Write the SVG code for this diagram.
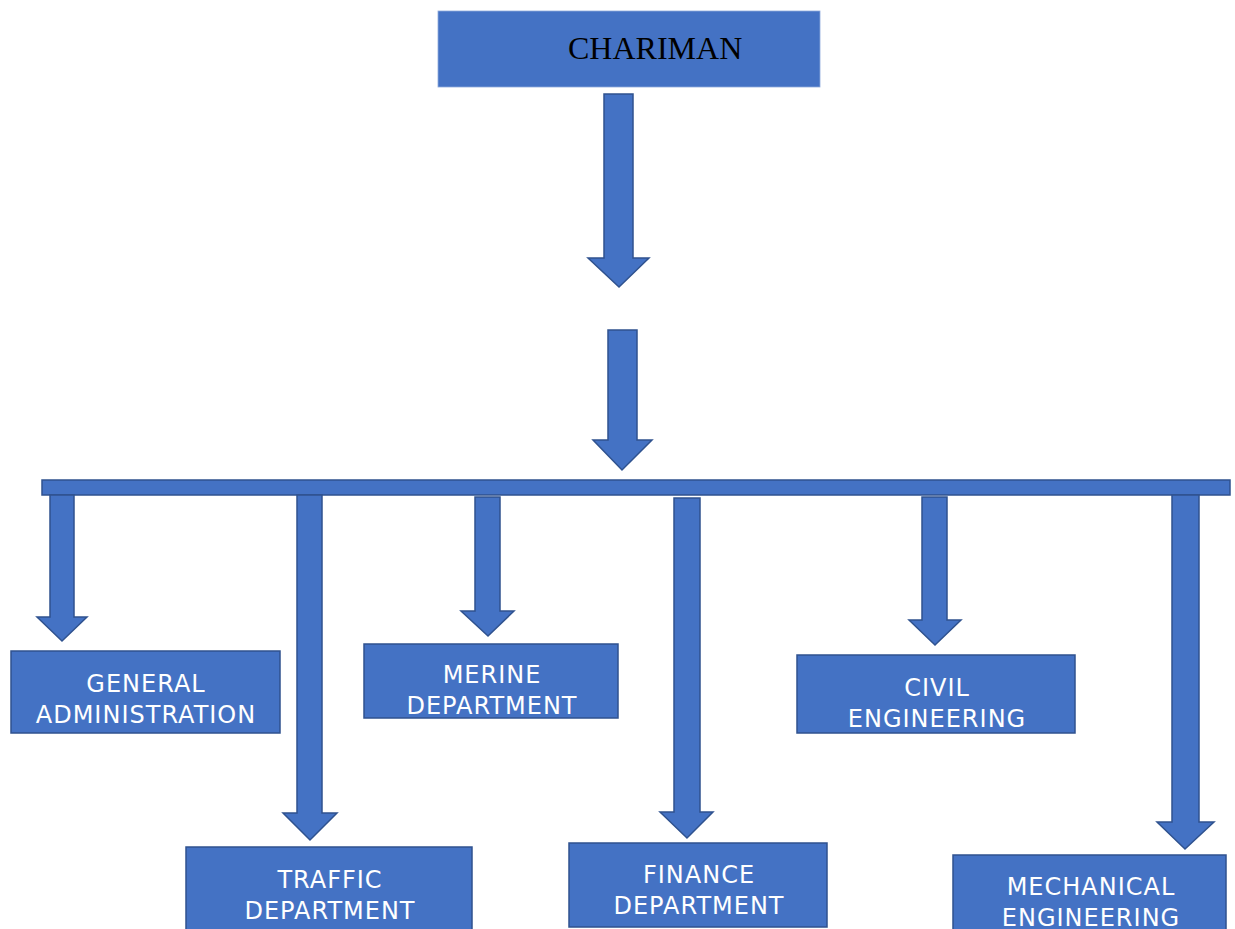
<svg xmlns="http://www.w3.org/2000/svg" width="1235" height="929" viewBox="0 0 1235 929">
<style>
.box{fill:#4472C4;stroke:#2F528F;stroke-width:1.5}
.top{fill:#4472C4;stroke:#8FAADC;stroke-width:0.8}
.arr{fill:#4472C4;stroke:#2F528F;stroke-width:1.5;stroke-linejoin:miter}
.lbl{font-family:"DejaVu Sans",sans-serif;font-size:24px;fill:#FFFFFF;text-anchor:middle;letter-spacing:1px}
.ttl{font-family:"Liberation Serif",serif;font-size:32px;fill:#000000}
</style>
<rect width="1235" height="929" fill="#FFFFFF"/>
<g id="chairman">
<rect class="top" x="438" y="11" width="382" height="76"/>
<text class="ttl" x="568" y="59">CHARIMAN</text>
</g>
<g id="connectors">
<polygon class="arr" points="604,94 633,94 633,258 649,258 619,287 588,258 604,258"/>
<polygon class="arr" points="608,330 637,330 637,440 652,440 622,470 593,440 608,440"/>
<rect class="arr" x="42" y="480" width="1188" height="15"/>
<polygon class="arr" points="50,495 74,495 74,617 87,617 62,641 37,617 50,617"/>
<polygon class="arr" points="297,495 322,495 322,813 337,813 310,840 283,813 297,813"/>
<polygon class="arr" points="475,497 500,497 500,611 514,611 488,636 461,611 475,611"/>
<polygon class="arr" points="674,498 700,498 700,812 713,812 687,838 660,812 674,812"/>
<polygon class="arr" points="922,497 947,497 947,620 961,620 935,645 909,620 922,620"/>
<polygon class="arr" points="1172,495 1199,495 1199,822 1214,822 1185,849 1157,822 1172,822"/>
</g>
<g id="general-administration">
<rect class="box" x="11" y="651" width="269" height="82"/>
<text class="lbl" x="146" y="692">GENERAL</text>
<text class="lbl" x="146" y="723">ADMINISTRATION</text>
</g>
<g id="traffic-department">
<rect class="box" x="186" y="847" width="286" height="90"/>
<text class="lbl" x="330" y="888">TRAFFIC</text>
<text class="lbl" x="330" y="919">DEPARTMENT</text>
</g>
<g id="merine-department">
<rect class="box" x="364" y="644" width="254" height="74"/>
<text class="lbl" x="492" y="683">MERINE</text>
<text class="lbl" x="492" y="714">DEPARTMENT</text>
</g>
<g id="finance-department">
<rect class="box" x="569" y="843" width="258" height="84"/>
<text class="lbl" x="699" y="883">FINANCE</text>
<text class="lbl" x="699" y="914">DEPARTMENT</text>
</g>
<g id="civil-engineering">
<rect class="box" x="797" y="655" width="278" height="78"/>
<text class="lbl" x="937" y="696">CIVIL</text>
<text class="lbl" x="937" y="727">ENGINEERING</text>
</g>
<g id="mechanical-engineering">
<rect class="box" x="953" y="855" width="273" height="90"/>
<text class="lbl" x="1091" y="895">MECHANICAL</text>
<text class="lbl" x="1091" y="926">ENGINEERING</text>
</g>
</svg>
